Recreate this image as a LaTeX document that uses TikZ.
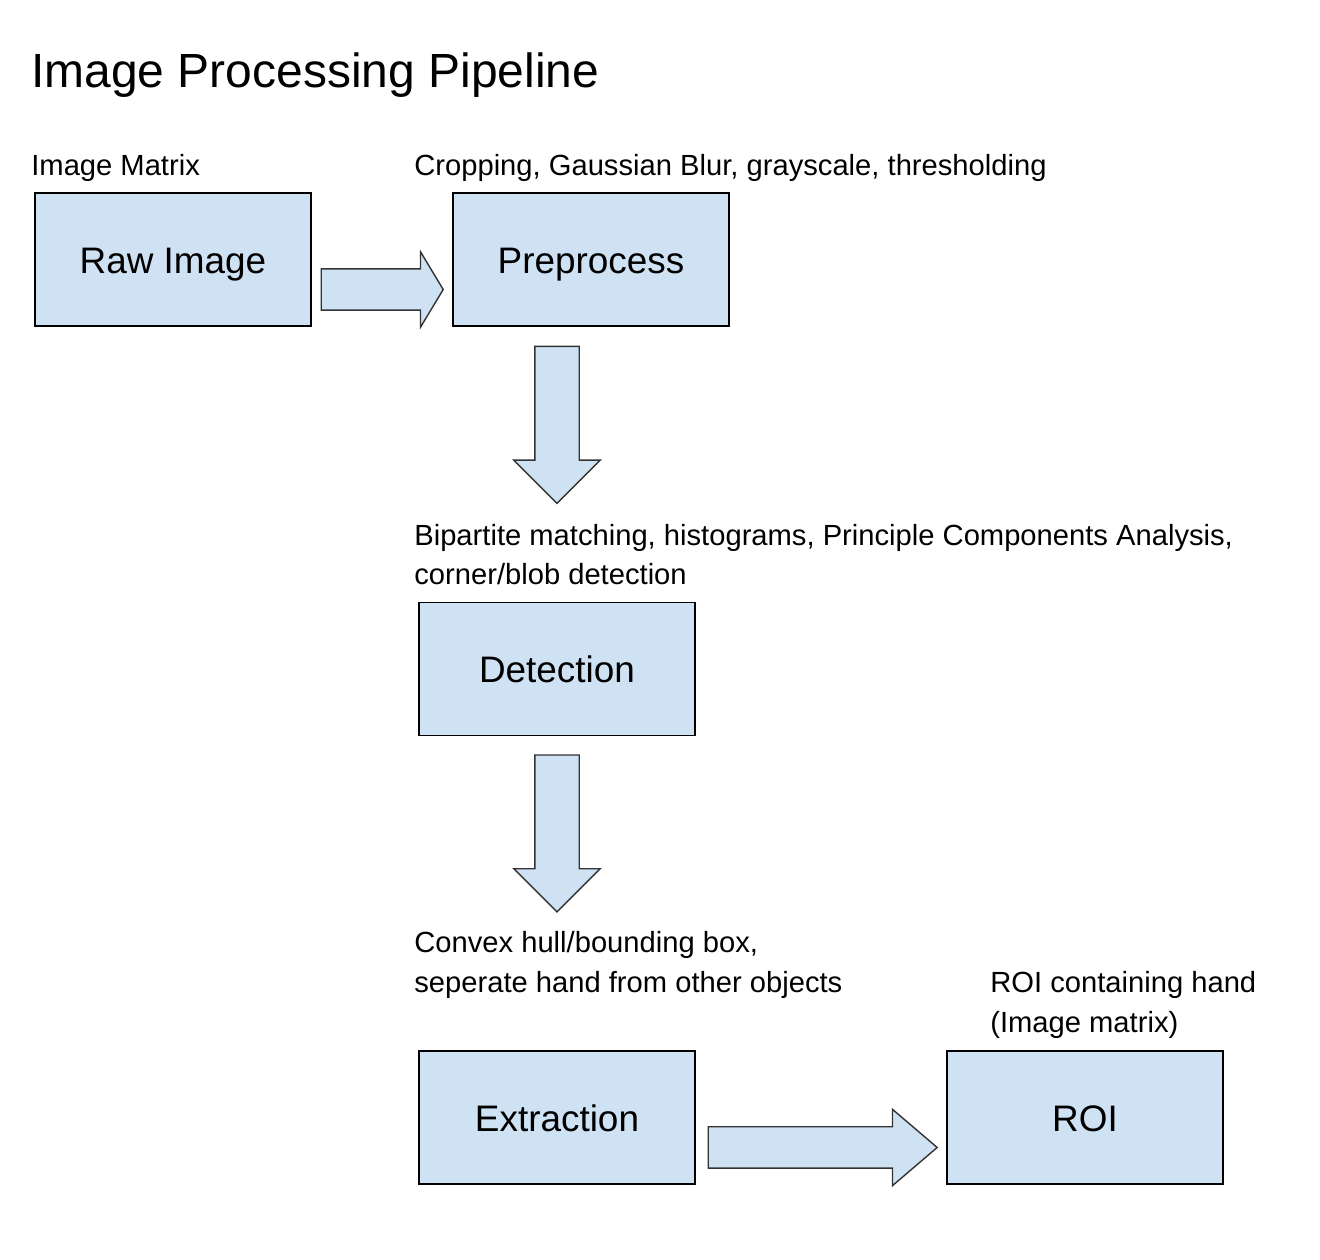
\documentclass[tikz,border=0pt]{standalone}
\usepackage{fontspec}
\setmainfont{Liberation Sans}
\usetikzlibrary{positioning,shapes.arrows,calc}

\definecolor{boxblue}{RGB}{207,226,243}
\definecolor{arrowgray}{RGB}{51,51,51}

\begin{document}
\begin{tikzpicture}[x=0.02cm,y=-0.02cm]
		\tikzstyle{every node}=[font=\fontsize{16.6}{22.6}\selectfont]
		\tikzstyle{stage}=[draw=black, fill=boxblue, line width=0.9pt, minimum width=5.51cm, minimum height=2.66cm, inner sep=0pt, text height=15.4pt, text depth=0pt, font=\fontsize{21}{25}\selectfont]
		\tikzstyle{note}=[anchor=base west, align=left, inner sep=0pt]
		\tikzstyle{blockarrow}=[single arrow, draw=arrowgray, fill=boxblue, line width=0.8pt, inner xsep=0pt, single arrow head indent=0pt, anchor=tail]
		
		\useasboundingbox (0,0) rectangle (1320,1260);
		
		% stages
		\node[stage] (raw) at (173,259.5) {Raw Image};
		\node[stage, right=2.82cm of raw] (pre) {Preprocess};
		\node[stage, below=5.5cm of pre, xshift=-0.68cm] (det) {Detection};
		\node[stage, below=6.28cm of det] (ext) {Extraction};
		\node[stage, right=5.02cm of ext] (roi) {ROI};
		
		% notes (base west sits on the last line)
		\node[note, font=\fontsize{27.3}{32}\selectfont] (title) at (31,88) {Image Processing Pipeline};
		\node[note] (rawnote) at (31,176) {Image Matrix};
		\node[note] (prenote) at (414,176) {Cropping, Gaussian Blur, grayscale, thresholding};
		\node[note] (detnote) at (414,585) {Bipartite matching, histograms, Principle Components Analysis,\\corner/blob detection};
		\node[note] (extnote) at (414,992) {Convex hull/bounding box,\\seperate hand from other objects};
		\node[note] (roinote) at (990,1032) {ROI containing hand\\(Image matrix)};
		
		% block arrows
		\node[blockarrow, inner ysep=0.4cm, single arrow head extend=0.34cm, single arrow tip angle=118, minimum height=2.44cm] (a1) at ($(raw.east)+(9,30)$) {};
		\node[blockarrow, inner ysep=0.43cm, single arrow head extend=0.42cm, single arrow tip angle=90, minimum height=3.14cm, rotate=-90] (a2) at ($(det.north)+(0,-256)$) {};
		\node[blockarrow, inner ysep=0.43cm, single arrow head extend=0.42cm, single arrow tip angle=90, minimum height=3.14cm, rotate=-90] (a3) at ($(det.south)+(0,18)$) {};
		\node[blockarrow, inner ysep=0.4cm, single arrow head extend=0.35cm, single arrow tip angle=81, minimum height=4.58cm] (a4) at ($(ext.east)+(12,30)$) {};
		
		\end{tikzpicture}
\end{document}
